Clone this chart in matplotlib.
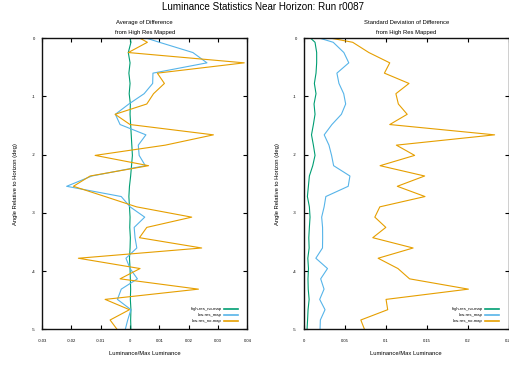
import matplotlib
matplotlib.use("Agg")
import matplotlib.pyplot as plt
from matplotlib.lines import Line2D

plt.rcParams['font.family'] = ['Liberation Sans', 'DejaVu Sans']

# angle below horizon (deg), one row per sample
angle_deg = [0.0, -0.069, -0.245, -0.422, -0.599, -0.776, -0.952, -1.129, -1.306, -1.482,
             -1.659, -1.836, -2.012, -2.189, -2.366, -2.543, -2.719, -2.896, -3.073, -3.249,
             -3.426, -3.603, -3.779, -3.956, -4.133, -4.310, -4.486, -4.663, -4.840, -5.016]

series_names = ['high-res_no-map', 'low-res_map', 'low-res_no-map']
series_colors = ['#009e73', '#56b4e9', '#e69f00']

# average of difference
avg_high_nomap = [0.0, 0.0003, -0.0006, 0.0, -0.0004, 0.0, -0.0003, 0.0001, 0.0, 0.0002,
                  0.0004, 0.0006, 0.0008, 0.0005, 0.0002, -0.0002, -0.0004, -0.0002, 0.0, -0.0001,
                  0.0001, 0.0, -0.0002, 0.0, 0.0001, 0.0002, 0.0001, 0.0003, 0.0002, 0.0003]
avg_low_map = [0.0057, 0.0100, 0.0214, 0.0262, 0.0078, 0.0077, 0.0048, -0.0004, -0.0050, -0.0034,
               0.0054, 0.0028, 0.0031, 0.0052, -0.0130, -0.0216, -0.0030, 0.0, 0.0050, 0.0014,
               0.0017, 0.0023, -0.0014, 0.0, 0.0025, -0.0030, -0.0043, 0.0003, -0.0008, -0.0017]
avg_low_nomap = [0.0034, 0.0059, -0.0006, 0.0389, 0.0093, 0.0117, 0.0080, 0.0057, -0.0051, 0.0,
                 0.0284, 0.0120, -0.0119, 0.0063, -0.0136, -0.0193, -0.0085, 0.0022, 0.0210, 0.0057,
                 0.0032, 0.0244, -0.0176, 0.0034, -0.0034, 0.0233, -0.0085, -0.0002, -0.0068, -0.0042]

# standard deviation of difference
std_high_nomap = [0.0085, 0.0138, 0.0158, 0.0158, 0.0150, 0.0130, 0.0150, 0.0126, 0.0138, 0.0118,
                  0.0095, 0.0118, 0.0138, 0.0110, 0.0069, 0.0057, 0.0045, 0.0069, 0.0077, 0.0069,
                  0.0062, 0.0066, 0.0050, 0.0058, 0.0052, 0.0055, 0.0066, 0.0053, 0.0047, 0.0040]
std_low_map = [0.0199, 0.0360, 0.0490, 0.0550, 0.0405, 0.0430, 0.0488, 0.0512, 0.0460, 0.0344,
               0.0250, 0.0308, 0.0340, 0.0365, 0.0564, 0.0543, 0.0270, 0.0249, 0.0219, 0.0230,
               0.0231, 0.0229, 0.0148, 0.0290, 0.0207, 0.0248, 0.0195, 0.0260, 0.0203, 0.0199]
std_low_nomap = [0.034, 0.0598, 0.0795, 0.105, 0.0985, 0.1285, 0.1125, 0.1155, 0.1263, 0.1050,
                 0.2330, 0.1131, 0.1354, 0.0932, 0.1476, 0.1142, 0.1480, 0.0929, 0.0868, 0.1002,
                 0.0843, 0.1335, 0.0908, 0.1150, 0.1292, 0.2010, 0.1005, 0.1025, 0.0697, 0.0746]

avg_xticks = [-0.03, -0.02, -0.01, 0, 0.01, 0.02, 0.03, 0.04]
avg_xlabels = ['-0.03', '-0.02', '-0.01', '0', '0.01', '0.02', '0.03', '0.04']
std_xticks = [0, 0.05, 0.1, 0.15, 0.2, 0.25]
std_xlabels = ['0', '0.05', '0.1', '0.15', '0.2', '0.25']
yticks = [0, -1, -2, -3, -4, -5]

fig = plt.figure(figsize=(5.09, 3.67), dpi=100)
ax1 = fig.add_axes([0.0825, 0.1027, 0.4037, 0.793])
ax2 = fig.add_axes([0.5967, 0.1027, 0.4024, 0.793])

panels = [
    (ax1, [avg_high_nomap, avg_low_map, avg_low_nomap], (-0.03, 0.04), avg_xticks, avg_xlabels,
     'Average of Difference'),
    (ax2, [std_high_nomap, std_low_map, std_low_nomap], (0, 0.25), std_xticks, std_xlabels,
     'Standard Deviation of Difference'),
]

for ax, data, xlim, xt, xl, sub in panels:
    for vals, col in zip(data, series_colors):
        ax.plot(vals, angle_deg, color=col, lw=0.8)
    ax.set_xlim(*xlim)
    ax.set_ylim(-5, 0)
    ax.set_xticks(xt)
    ax.set_xticklabels(xl)
    ax.set_yticks(yticks)
    ax.set_yticklabels([str(v) for v in yticks])
    ax.tick_params(direction='in', length=3, width=0.8, top=True, right=True, labelsize=3)
    ax.tick_params(axis='x', pad=7)
    ax.tick_params(axis='y', pad=5)
    for s in ax.spines.values():
        s.set_linewidth(1.0)
        s.set_color('#111111')
    ax.set_xlabel('Luminance/Max Luminance', fontsize=4.2)
    ax.xaxis.set_label_coords(0.5, -0.075)
    ax.set_ylabel('Angle Relative to Horizon (deg)', fontsize=4.2)
    ax.yaxis.set_label_coords(-0.115, 0.5)
    ax.text(0.5, 1.055, sub, transform=ax.transAxes, ha='center', va='center', fontsize=4.2)
    ax.text(0.5, 1.0206, 'from High Res Mapped', transform=ax.transAxes, ha='center',
            va='center', fontsize=4.2)
    handles = [Line2D([], [], color=c, lw=1.2) for c in series_colors]
    ax.legend(handles, series_names, loc='lower right', bbox_to_anchor=(0.97, 0.01),
              frameon=False, markerfirst=False, fontsize=3.1, handlelength=3.4,
              handletextpad=0.5, labelspacing=0.5, borderaxespad=0.3)

fig.text(263 / 509, 1 - 7 / 367, 'Luminance Statistics Near Horizon: Run r0087',
         ha='center', va='center', fontsize=7.1)

fig.savefig('out.png', dpi=100)
